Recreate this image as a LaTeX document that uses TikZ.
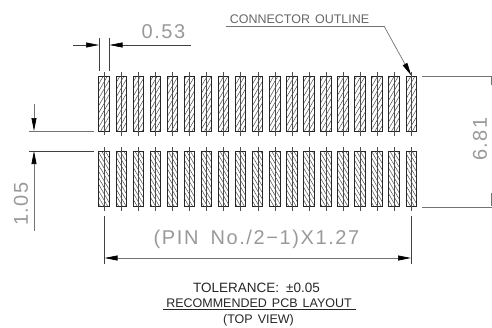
\documentclass[tikz,border=0pt]{standalone}
\usepackage{fontspec}
\setmainfont{Liberation Sans}
\usetikzlibrary{arrows.meta,patterns.meta,positioning}
\definecolor{dimgray}{gray}{0.6}
\tikzstyle{pad} = [rectangle, draw=black!85, line width=1pt, minimum width=10.5pt, minimum height=55pt, inner sep=0pt, node distance=17.06pt]
\tikzstyle{padtop} = [pad, pattern={Lines[angle=60,distance=3.6pt,line width=0.5pt]}, pattern color=black!70]
\tikzstyle{padbot} = [pad, pattern={Lines[angle=-60,distance=3.2pt,line width=0.5pt]}, pattern color=black!70]
\tikzstyle{dim} = [draw=black!55, line width=0.7pt]
\tikzstyle{ext} = [draw=black!75, line width=0.6pt]
\tikzstyle{big} = [text=dimgray, font=\fontsize{20}{20}\selectfont\addfontfeature{LetterSpace=8}, inner sep=0pt]
\tikzstyle{small} = [text=black!85, font=\fontsize{12.5}{13}\selectfont, inner sep=0pt]

\begin{document}
\begin{tikzpicture}[x=1pt,y=-1pt,>={Triangle[length=13pt,width=5pt,black]}]
    \useasboundingbox (0,0) rectangle (492,327);

        % pads
        \node[padtop] (T0) at (104.2,103.5) {};
        \node[padbot] (B0) at (104.2,179) {};
        \foreach \i [remember=\i as \prev (initially 0)] in {1,...,18} {
            \node[padtop] (T\i) [right of=T\prev] {};
            \node[padbot] (B\i) [right of=B\prev] {};
        }
        \foreach \i in {0,...,18} {
            \draw[black!70,line width=0.4pt] ([yshift=4pt]T\i.north) -- ([yshift=-4pt]T\i.south);
            \draw[black!70,line width=0.4pt] ([yshift=4pt]B\i.north) -- ([yshift=-4pt]B\i.south);
        }

        % 0.53
        \coordinate (wa) at (99,38);
        \coordinate (wb) at (109.5,38);
        \coordinate (wa2) at (99,71);
        \coordinate (wb2) at (109.5,71);
        \coordinate (wl) at (73,45);
        \coordinate (wr) at (191,45);
        \coordinate (wp) at (99,45);
        \coordinate (wq) at (109.5,45);
        \draw[ext] (wa) -- (wa2);
        \draw[ext] (wb) -- (wb2);
        \draw[ext,->] (wl) -- (wp);
        \draw[ext,->] (wr) -- (wq);
        \node[big] (wtext) at (163.5,32) {0.53};

        % connector outline
        \node[small,text=black!60] (outline) at (299.5,19) {CONNECTOR\hspace{5pt}OUTLINE};
        \coordinate (la) at (226,26);
        \coordinate (lb) at (384,26);
        \draw[dim] (la) -- (lb);
        \draw[dim,->] (lb) -- (T18.north);

        % 1.05
        \coordinate (ga) at (29,131);
        \coordinate (gb) at (94,131);
        \coordinate (gc) at (29,151);
        \coordinate (gd) at (94,151);
        \coordinate (ge) at (34,104);
        \coordinate (gf) at (34,131);
        \coordinate (gg) at (34,231);
        \coordinate (gh) at (34,151);
        \draw[dim] (ga) -- (gb);
        \draw[ext] (gc) -- (gd);
        \draw[dim,->] (ge) -- (gf);
        \draw[dim,->] (gg) -- (gh);
        \node[big,rotate=90] (gtext) at (21,204) {1.05};

        % 6.81
        \coordinate (ha) at (422,76);
        \coordinate (hb) at (492,76);
        \coordinate (hc) at (422,207);
        \coordinate (hd) at (492,207);
        \coordinate (he) at (491.5,77);
        \coordinate (hf) at (491.5,85);
        \coordinate (hg) at (491.5,193);
        \coordinate (hh) at (491.5,206);
        \draw[dim] (ha) -- (hb);
        \draw[dim] (hc) -- (hd);
        \draw[dim] (he) -- (hf);
        \draw[dim] (hg) -- (hh);
        \node[big,rotate=90] (htext) at (480,139) {6.81};

        % pitch
        \coordinate (pa) at (104.5,216);
        \coordinate (pb) at (104.5,264);
        \coordinate (pc) at (411,216);
        \coordinate (pd) at (411,264);
        \coordinate (pe) at (104.5,258);
        \coordinate (pf) at (411,258);
        \draw[ext] (pa) -- (pb);
        \draw[ext] (pc) -- (pd);
        \draw[dim,<->] (pe) -- (pf);
        \node[big] (ptext) at (256.5,239) {(PIN\hspace{12pt}No./2−1)X1.27};

        % notes
        \node[small,font=\fontsize{13.5}{14}\selectfont] (tol) at (256.5,288) {TOLERANCE:\hspace{7pt}±0.05};
        \node[small] (rec) at (259,303) {RECOMMENDED\hspace{5pt}PCB\hspace{5pt}LAYOUT};
        \node[small] (view) at (258.5,320.5) {(TOP\hspace{5pt}VIEW)};
        \draw[black!85,line width=0.8pt] (163,309.5) -- (355.5,309.5);
\end{tikzpicture}
\end{document}
